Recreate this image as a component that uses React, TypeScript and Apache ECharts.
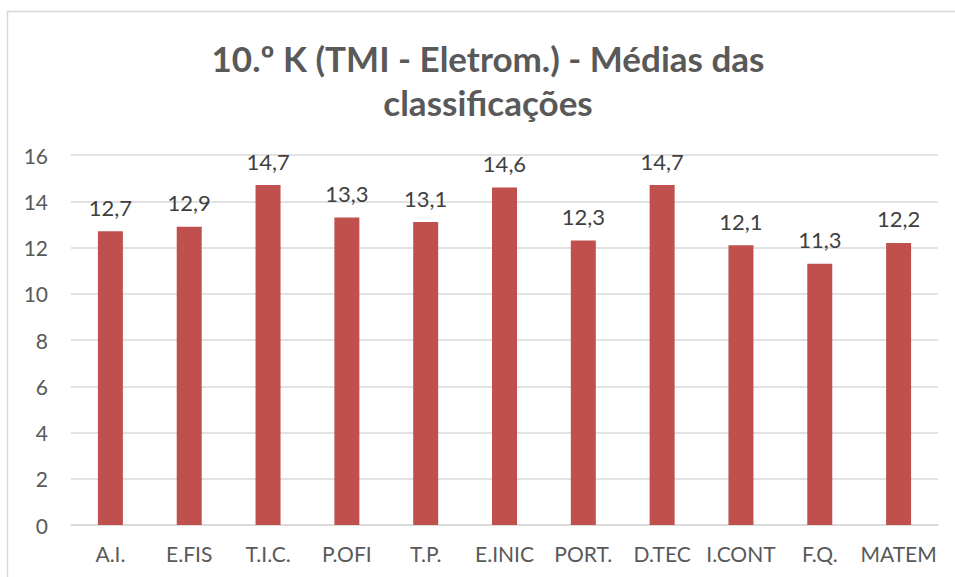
import React, { useEffect, useRef } from "react";
import * as echarts from "echarts";

const categories = ["A.I.", "E.FIS", "T.I.C.", "P.OFI", "T.P.", "E.INIC", "PORT.", "D.TEC", "I.CONT", "F.Q.", "MATEM"];
const values = [12.7, 12.9, 14.7, 13.3, 13.1, 14.6, 12.3, 14.7, 12.1, 11.3, 12.2];
const titleText = "10.º K (TMI - Eletrom.) - Médias das\nclassificações";

const FONT = "Lato, 'Open Sans', sans-serif";

export default function App() {
  const ref = useRef<HTMLDivElement>(null);
  useEffect(() => {
    if (!ref.current) return;
    const chart = echarts.init(ref.current, undefined, { renderer: "svg" });
    chart.setOption({
      animation: false,
      backgroundColor: "#ffffff",
      title: {
        text: titleText,
        left: 488,
        textAlign: "center",
        top: 36,
        padding: 0,
        textStyle: {
          fontFamily: FONT,
          fontSize: 35,
          fontWeight: "bold",
          color: "#595959",
          lineHeight: 44,
        },
      },
      graphic: [
        {
          type: "rect",
          shape: { x: 7.5, y: 11.5, width: 1000, height: 1000 },
          style: { fill: "none", stroke: "#D9D9D9", lineWidth: 1.5 },
          silent: true,
        },
      ],
      grid: { left: 71, right: 17, top: 155, bottom: 52 },
      xAxis: {
        type: "category",
        data: categories,
        axisLine: { show: true, lineStyle: { color: "#D9D9D9", width: 1.5 } },
        axisTick: { show: false },
        axisLabel: {
          fontFamily: FONT,
          fontSize: 21,
          color: "#595959",
          margin: 18,
          interval: 0,
        },
      },
      yAxis: {
        type: "value",
        min: 0,
        max: 16,
        interval: 2,
        axisLine: { show: false },
        axisTick: { show: false },
        splitLine: { lineStyle: { color: "#D9D9D9", width: 1.5 } },
        axisLabel: {
          fontFamily: FONT,
          fontSize: 21,
          color: "#595959",
          margin: 23,
        },
      },
      series: [
        {
          type: "bar",
          data: values,
          barWidth: 25,
          itemStyle: { color: "#C0504D" },
          label: {
            show: true,
            position: "top",
            distance: 13,
            fontFamily: FONT,
            fontSize: 22,
            color: "#404040",
            formatter: (p: any) => String(p.value.toFixed(1)).replace(".", ","),
          },
        },
      ],
    });
    return () => chart.dispose();
  }, []);
  return (
    <div
      ref={ref}
      style={{ position: "absolute", left: 0, top: 0, width: 955, height: 577 }}
    />
  );
}
